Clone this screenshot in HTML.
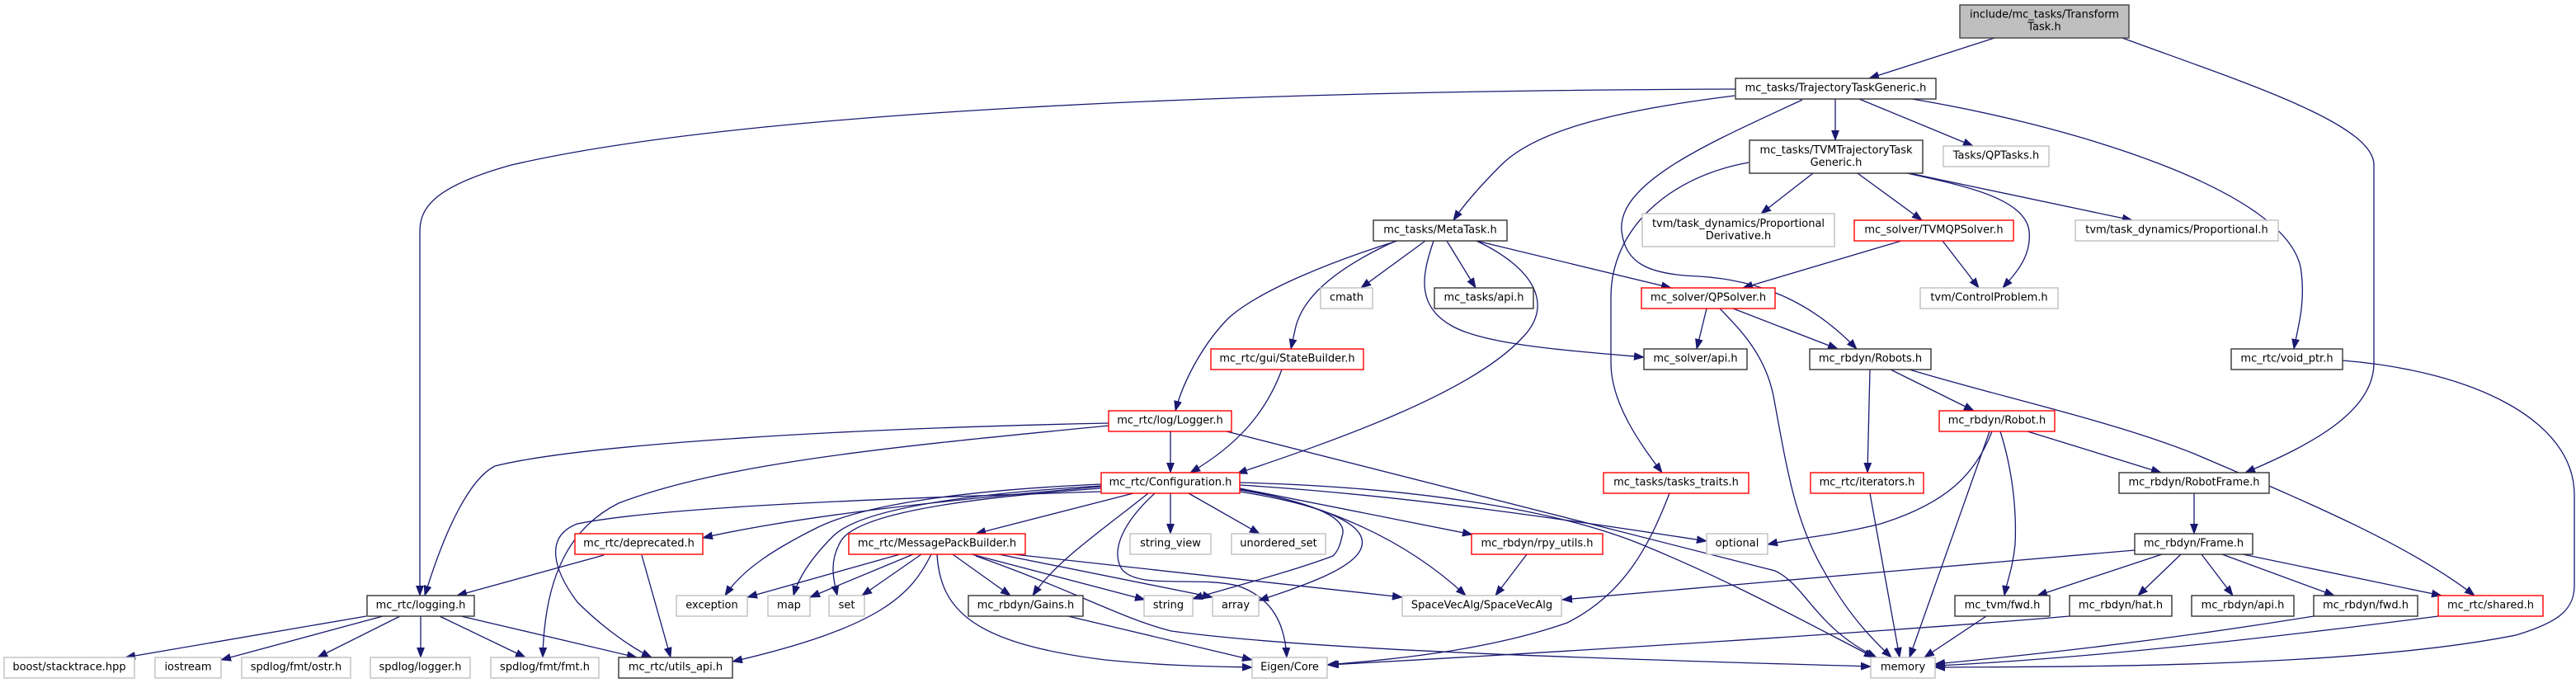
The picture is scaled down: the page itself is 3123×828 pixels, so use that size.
<!DOCTYPE html>
<html>
<head>
<meta charset="utf-8">
<style>
  html, body { margin: 0; padding: 0; background: #ffffff; }
  svg { display: block; }
  text { font-family: "DejaVu Sans", "Liberation Sans", sans-serif; font-size: 13px; fill: #000; text-anchor: middle; }
  .e { fill: none; stroke: #191970; stroke-width: 1.3; marker-end: url(#ah); }
  .nb { fill: #fff; stroke: #333; stroke-width: 1.4; }
  .ng { fill: #fff; stroke: #c0c0c0; stroke-width: 1.4; }
  .nr { fill: #fff; stroke: #ff0000; stroke-width: 1.4; }
  .nroot { fill: #bfbfbf; stroke: #404040; stroke-width: 1.4; }
</style>
</head>
<body>
<svg width="3123" height="828" viewBox="0 0 3123 828" xmlns="http://www.w3.org/2000/svg">
<defs>
  <marker id="ah" markerUnits="userSpaceOnUse" markerWidth="13" markerHeight="10" refX="12" refY="5" viewBox="0 0 13 10" orient="auto">
    <path d="M0,0.5 L12,5 L0,9.5 z" fill="#191970" stroke="#191970" stroke-width="0.8"/>
  </marker>
</defs>
<rect x="0" y="0" width="3123" height="828" fill="#fff"/>

<!-- ===== EDGES ===== -->
<path class="e" d="M2418,46 L2266,95"/>
<path class="e" d="M2573,46 C2720,100 2878,150 2878,200 L2878,440 C2878,500 2800,540 2722,573"/>
<path class="e" d="M2104,108 C1500,110 900,135 620,200 C530,225 509,250 509,280 L509,722"/>
<path class="e" d="M2103,116 C1950,135 1860,160 1820,200 C1795,225 1775,248 1762,267"/>
<path class="e" d="M2185,121 C2080,170 1960,220 1966,280 C1970,320 2000,333 2060,335 C2140,340 2200,370 2251,423"/>
<path class="e" d="M2225,120 L2225,170"/>
<path class="e" d="M2254,120 L2392,177"/>
<path class="e" d="M2318,120 C2500,150 2780,230 2790,330 C2795,370 2785,400 2781,423"/>

<path class="e" d="M2198,210 L2135,259"/>
<path class="e" d="M2252,210 L2330,267"/>
<path class="e" d="M2120,197 C2020,215 1953,280 1953,360 L1953,440 C1953,490 1990,540 2015,573"/>
<path class="e" d="M2315,210 L2585,267"/>
<path class="e" d="M2312,210 C2380,225 2455,240 2460,280 C2463,310 2445,330 2428,349"/>

<path class="e" d="M2305,292 L2113,349"/>
<path class="e" d="M2355,292 L2399,349"/>

<path class="e" d="M1728,292 L1650,349"/>
<path class="e" d="M1754,292 L1789,349"/>
<path class="e" d="M1790,292 L2026,349"/>
<path class="e" d="M1738,292 C1725,330 1715,370 1760,395 C1800,418 1900,425 1993,433"/>
<path class="e" d="M1790,292 C1860,325 1885,370 1845,410 C1780,480 1600,540 1500,574"/>
<path class="e" d="M1694,292 C1620,315 1530,350 1490,385 C1460,415 1435,460 1425,498"/>
<path class="e" d="M1692,292 C1620,325 1578,360 1570,400 L1565,423"/>

<path class="e" d="M1554,448 C1535,500 1500,540 1443,573"/>
<path class="e" d="M1419,523 L1419,573"/>
<path class="e" d="M1344,513 C1000,520 700,540 600,565 C570,580 540,640 515,722"/>
<path class="e" d="M1344,516 C1100,540 880,560 750,610 C690,640 660,700 658,797"/>
<path class="e" d="M1487,523 L2152,692 C2190,710 2200,760 2275,797"/>

<!-- Configuration.h -->
<path class="e" d="M1335,590 C1100,610 950,630 852,652"/>
<path class="e" d="M1335,587 C1150,595 1040,615 990,640 C940,665 900,690 879,722"/>
<path class="e" d="M1335,589 C1150,600 1040,620 1010,650 C985,675 968,700 962,722"/>
<path class="e" d="M1335,592 C1150,605 1040,625 1020,655 C1005,680 1010,700 1015,722"/>
<path class="e" d="M1335,596 C1050,605 800,615 700,635 C660,650 670,690 700,730 C730,760 765,785 790,797"/>
<path class="e" d="M1374,598 L1183,647"/>
<path class="e" d="M1392,598 C1340,640 1280,680 1252,722"/>
<path class="e" d="M1400,598 C1365,630 1345,665 1360,690 C1380,715 1450,698 1500,710 C1545,725 1558,760 1560,797"/>
<path class="e" d="M1419,598 L1419,647"/>
<path class="e" d="M1441,598 L1527,647"/>
<path class="e" d="M1503,594 C1600,610 1635,630 1627,650 C1624,665 1620,670 1616,674 C1560,695 1480,715 1446,726"/>
<path class="e" d="M1503,596 C1620,615 1660,640 1650,665 C1640,690 1580,710 1526,728"/>
<path class="e" d="M1503,593 C1600,610 1700,650 1777,722"/>
<path class="e" d="M1503,592 L1785,648"/>
<path class="e" d="M1503,588 C1700,600 1900,630 2069,656"/>
<path class="e" d="M1503,585 C1700,590 1880,615 1990,660 C2100,705 2200,760 2272,797"/>

<!-- MessagePackBuilder.h -->
<path class="e" d="M1091,672 L906,724"/>
<path class="e" d="M1107,672 L982,724"/>
<path class="e" d="M1117,672 L1045,722"/>
<path class="e" d="M1129,672 C1105,720 1070,760 888,802"/>
<path class="e" d="M1136,672 C1140,740 1180,780 1340,800 C1420,808 1480,808 1518,809"/>
<path class="e" d="M1155,672 L1225,722"/>
<path class="e" d="M1178,672 L1388,727"/>
<path class="e" d="M1211,672 L1470,724"/>
<path class="e" d="M1229,672 L1700,724"/>
<path class="e" d="M1183,674 C1300,715 1360,750 1420,765 C1600,790 2000,800 2268,808"/>

<path class="e" d="M1295,747 L1518,800"/>

<path class="e" d="M732,673 L554,722"/>
<path class="e" d="M778,673 L813,797"/>

<path class="e" d="M444,747 L152,797"/>
<path class="e" d="M464,747 L268,800"/>
<path class="e" d="M485,747 L385,797"/>
<path class="e" d="M510,747 L510,797"/>
<path class="e" d="M533,747 L637,797"/>
<path class="e" d="M559,747 L772,797"/>

<path class="e" d="M1851,672 L1813,722"/>
<path class="e" d="M2024,598 C2000,660 1970,720 1900,755 C1800,790 1680,800 1609,806"/>

<path class="e" d="M2069,374 L2057,423"/>
<path class="e" d="M2085,374 C2110,400 2140,430 2150,480 C2165,560 2175,630 2210,690 C2240,745 2270,775 2293,797"/>
<path class="e" d="M2101,374 L2228,423"/>

<path class="e" d="M2267,448 L2264,573"/>
<path class="e" d="M2292,448 L2393,498"/>
<path class="e" d="M2315,448 C2420,480 2560,510 2660,550 C2800,610 2920,660 3000,722"/>

<path class="e" d="M2267,598 L2303,797"/>

<path class="e" d="M2415,523 C2395,575 2360,610 2280,635 C2220,650 2180,652 2143,660"/>
<path class="e" d="M2412,523 L2315,797"/>
<path class="e" d="M2425,523 C2440,570 2445,620 2443,660 C2440,690 2433,705 2430,722"/>
<path class="e" d="M2458,523 L2620,573"/>

<path class="e" d="M2660,598 L2660,647"/>
<path class="e" d="M2588,667 L1894,727"/>
<path class="e" d="M2621,672 L2470,722"/>
<path class="e" d="M2644,672 L2592,722"/>
<path class="e" d="M2669,672 L2707,722"/>
<path class="e" d="M2694,672 L2830,722"/>
<path class="e" d="M2719,672 L2960,722"/>

<path class="e" d="M2408,747 L2333,797"/>
<path class="e" d="M2509,747 C2300,765 1900,790 1611,806"/>
<path class="e" d="M2805,747 C2600,780 2450,795 2346,805"/>
<path class="e" d="M2956,747 C2700,780 2500,800 2346,807"/>
<path class="e" d="M2840,437 C3000,450 3121,510 3121,600 L3121,710 C3121,740 3100,755 3050,770 C2850,810 2500,808 2346,809"/>

<!-- ===== NODES ===== -->
<rect class="nroot" x="2376" y="6" width="205" height="40"/>
<text x="2478.5" y="21.7">include/mc_tasks/Transform</text>
<text x="2478.5" y="36.7">Task.h</text>

<rect class="nb" x="2104" y="95" width="243" height="25"/>
<text x="2225.5" y="110.5">mc_tasks/TrajectoryTaskGeneric.h</text>

<rect class="nb" x="2121" y="170" width="210" height="40"/>
<text x="2226" y="186">mc_tasks/TVMTrajectoryTask</text>
<text x="2226" y="201">Generic.h</text>

<rect class="ng" x="2356" y="177" width="128" height="25"/>
<text x="2420" y="192.5">Tasks/QPTasks.h</text>

<rect class="nb" x="1665" y="267" width="162" height="25"/>
<text x="1746" y="282.5">mc_tasks/MetaTask.h</text>

<rect class="ng" x="1991" y="259" width="233" height="40"/>
<text x="2107.5" y="275">tvm/task_dynamics/Proportional</text>
<text x="2107.5" y="290">Derivative.h</text>

<rect class="nr" x="2248" y="267" width="193" height="25"/>
<text x="2344.5" y="282.5">mc_solver/TVMQPSolver.h</text>

<rect class="ng" x="2516" y="267" width="246" height="25"/>
<text x="2639" y="282.5">tvm/task_dynamics/Proportional.h</text>

<rect class="ng" x="1601" y="349" width="63" height="25"/>
<text x="1632.5" y="364.5">cmath</text>

<rect class="nb" x="1739" y="349" width="120" height="25"/>
<text x="1799" y="364.5">mc_tasks/api.h</text>

<rect class="nr" x="1990" y="349" width="162" height="25"/>
<text x="2071" y="364.5">mc_solver/QPSolver.h</text>

<rect class="ng" x="2328" y="349" width="167" height="25"/>
<text x="2411.5" y="364.5">tvm/ControlProblem.h</text>

<rect class="nr" x="1468" y="423" width="185" height="25"/>
<text x="1560.5" y="438.5">mc_rtc/gui/StateBuilder.h</text>

<rect class="nb" x="1993" y="423" width="125" height="25"/>
<text x="2055.5" y="438.5">mc_solver/api.h</text>

<rect class="nb" x="2194" y="423" width="147" height="25"/>
<text x="2267.5" y="438.5">mc_rbdyn/Robots.h</text>

<rect class="nb" x="2705" y="423" width="135" height="25"/>
<text x="2772.5" y="438.5">mc_rtc/void_ptr.h</text>

<rect class="nr" x="1344" y="498" width="149" height="25"/>
<text x="1418.5" y="513.5">mc_rtc/log/Logger.h</text>

<rect class="nr" x="2351" y="498" width="140" height="25"/>
<text x="2421" y="513.5">mc_rbdyn/Robot.h</text>

<rect class="nr" x="1335" y="573" width="168" height="25"/>
<text x="1419" y="588.5">mc_rtc/Configuration.h</text>

<rect class="nr" x="1944" y="573" width="176" height="25"/>
<text x="2032" y="588.5">mc_tasks/tasks_traits.h</text>

<rect class="nr" x="2195" y="573" width="137" height="25"/>
<text x="2263.5" y="588.5">mc_rtc/iterators.h</text>

<rect class="nb" x="2569" y="573" width="182" height="25"/>
<text x="2660" y="588.5">mc_rbdyn/RobotFrame.h</text>

<rect class="nr" x="697" y="647" width="155" height="25"/>
<text x="774.5" y="662.5">mc_rtc/deprecated.h</text>

<rect class="nr" x="1029" y="647" width="214" height="25"/>
<text x="1136" y="662.5">mc_rtc/MessagePackBuilder.h</text>

<rect class="ng" x="1370" y="647" width="98" height="25"/>
<text x="1419" y="662.5">string_view</text>

<rect class="ng" x="1493" y="647" width="114" height="25"/>
<text x="1550" y="662.5">unordered_set</text>

<rect class="nr" x="1784" y="647" width="159" height="25"/>
<text x="1863.5" y="662.5">mc_rbdyn/rpy_utils.h</text>

<rect class="ng" x="2069" y="647" width="74" height="25"/>
<text x="2106" y="662.5">optional</text>

<rect class="nb" x="2588" y="647" width="143" height="25"/>
<text x="2659.5" y="662.5">mc_rbdyn/Frame.h</text>

<rect class="nb" x="445" y="722" width="130" height="25"/>
<text x="510" y="737.5">mc_rtc/logging.h</text>

<rect class="ng" x="820" y="722" width="86" height="25"/>
<text x="863" y="737.5">exception</text>

<rect class="ng" x="931" y="722" width="51" height="25"/>
<text x="956.5" y="737.5">map</text>

<rect class="ng" x="1005" y="722" width="43" height="25"/>
<text x="1026.5" y="737.5">set</text>

<rect class="nb" x="1174" y="722" width="139" height="25"/>
<text x="1243.5" y="737.5">mc_rbdyn/Gains.h</text>

<rect class="ng" x="1387" y="722" width="59" height="25"/>
<text x="1416.5" y="737.5">string</text>

<rect class="ng" x="1470" y="722" width="56" height="25"/>
<text x="1498" y="737.5">array</text>

<rect class="ng" x="1700" y="722" width="193" height="25"/>
<text x="1796.5" y="737.5">SpaceVecAlg/SpaceVecAlg</text>

<rect class="nb" x="2370" y="722" width="115" height="25"/>
<text x="2427.5" y="737.5">mc_tvm/fwd.h</text>

<rect class="nb" x="2509" y="722" width="124" height="25"/>
<text x="2571" y="737.5">mc_rbdyn/hat.h</text>

<rect class="nb" x="2657" y="722" width="124" height="25"/>
<text x="2719" y="737.5">mc_rbdyn/api.h</text>

<rect class="nb" x="2805" y="722" width="126" height="25"/>
<text x="2868" y="737.5">mc_rbdyn/fwd.h</text>

<rect class="nr" x="2956" y="722" width="127" height="25"/>
<text x="3019.5" y="737.5">mc_rtc/shared.h</text>

<rect class="ng" x="5" y="797" width="158" height="25"/>
<text x="84" y="812.5">boost/stacktrace.hpp</text>

<rect class="ng" x="188" y="797" width="80" height="25"/>
<text x="228" y="812.5">iostream</text>

<rect class="ng" x="293" y="797" width="132" height="25"/>
<text x="359" y="812.5">spdlog/fmt/ostr.h</text>

<rect class="ng" x="449" y="797" width="121" height="25"/>
<text x="509.5" y="812.5">spdlog/logger.h</text>

<rect class="ng" x="595" y="797" width="131" height="25"/>
<text x="660.5" y="812.5">spdlog/fmt/fmt.h</text>

<rect class="nb" x="750" y="797" width="138" height="25"/>
<text x="819" y="812.5">mc_rtc/utils_api.h</text>

<rect class="ng" x="1518" y="797" width="91" height="25"/>
<text x="1563.5" y="812.5">Eigen/Core</text>

<rect class="ng" x="2268" y="797" width="78" height="25"/>
<text x="2307" y="812.5">memory</text>
</svg>
</body>
</html>
